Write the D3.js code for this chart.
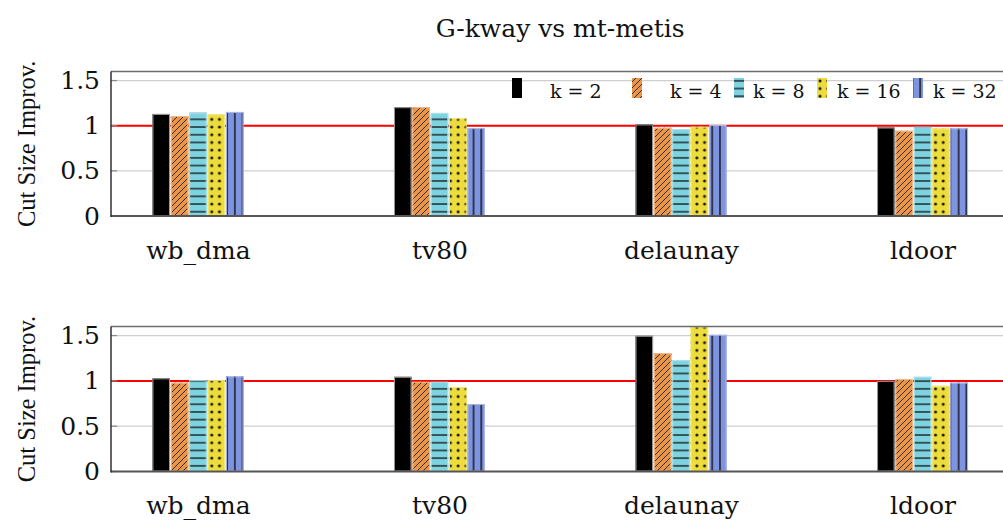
<!DOCTYPE html>
<html>
<head>
<meta charset="utf-8">
<script src="https://cdn.jsdelivr.net/npm/d3@7"></script>
<style>
  body { margin: 0; background: #fff; }
  svg { display: block; }
</style>
</head>
<body>
<svg id="chart" width="1003" height="521"></svg>
<script>
// ---- data ----
const categories = ["wb_dma", "tv80", "delaunay", "ldoor"];
const seriesNames = ["k = 2", "k = 4", "k = 8", "k = 16", "k = 32"];
const yTickValues = [0, 0.5, 1, 1.5];
const yTickLabels = ["0", "0.5", "1", "1.5"];
const chartTitle = "G-kway vs mt-metis";
const yAxisTitle = "Cut Size Improv.";

// upper panel: improvement per k, one value per graph
const upperK2  = [1.13, 1.205, 1.014, 0.98];
const upperK4  = [1.107, 1.205, 0.977, 0.944];
const upperK8  = [1.144, 1.141, 0.962, 0.988];
const upperK16 = [1.126, 1.082, 0.988, 0.97];
const upperK32 = [1.152, 0.973, 1.007, 0.97];

// lower panel
const lowerK2  = [1.028, 1.045, 1.497, 1.0];
const lowerK4  = [0.98, 0.99, 1.307, 1.02];
const lowerK8  = [1.007, 0.99, 1.229, 1.045];
const lowerK16 = [1.007, 0.93, 1.6, 0.946];
const lowerK32 = [1.05, 0.744, 1.508, 0.98];

const referenceLevel = 1;

// ---- styling ----
const FONT = "'DejaVu Serif', 'Liberation Serif', serif";
const TITLE_FONT = "'Liberation Serif', 'DejaVu Serif', serif";
const seriesColors = ["#000000", "#EB9548", "#7ED3E0", "#EDDC3C", "#7F94E0"];
const seriesPatterns = [null, "patDiag", "patHoriz", "patDots", "patVert"];

const svg = d3.select("#chart");
const defs = svg.append("defs");

// hatch patterns tiled across the page
const period = 7.7;
const diag = 6;
const pDiag = defs.append("pattern").attr("id", "patDiag")
  .attr("patternUnits", "userSpaceOnUse").attr("width", diag).attr("height", diag);
pDiag.append("path")
  .attr("d", `M-1,${diag + 1} L${diag + 1},-1 M-1,1 L1,-1 M${diag - 1},${diag + 1} L${diag + 1},${diag - 1}`)
  .attr("stroke", "#222").attr("stroke-width", 0.9);

const pHoriz = defs.append("pattern").attr("id", "patHoriz")
  .attr("patternUnits", "userSpaceOnUse").attr("width", 20).attr("height", period);
pHoriz.append("line").attr("x1", 0).attr("x2", 20).attr("y1", period / 2).attr("y2", period / 2)
  .attr("stroke", "#111").attr("stroke-width", 1.3);

const pDots = defs.append("pattern").attr("id", "patDots")
  .attr("patternUnits", "userSpaceOnUse").attr("width", period).attr("height", period);
pDots.append("circle").attr("cx", period / 2).attr("cy", period / 2).attr("r", 1.5).attr("fill", "#111");

const pVert = defs.append("pattern").attr("id", "patVert")
  .attr("patternUnits", "userSpaceOnUse").attr("width", period).attr("height", 20);
pVert.append("line").attr("y1", 0).attr("y2", 20).attr("x1", period / 2).attr("x2", period / 2)
  .attr("stroke", "#111").attr("stroke-width", 1.4);

// ---- layout ----
const xLeft = 111, xRight = 1009.5;
const panels = [
  { series: [upperK2, upperK4, upperK8, upperK16, upperK32], bottom: 216, top: 71.5 },
  { series: [lowerK2, lowerK4, lowerK8, lowerK16, lowerK32], bottom: 471.5, top: 326.5 }
];

const x0 = d3.scalePoint().domain(categories).range([xLeft, xRight]).padding(0.36);
const x1 = d3.scaleBand().domain(seriesNames).range([-45.5, 45.5]).paddingInner(0.045);

function lighter(c, t) { return d3.interpolateRgb(c, "#fff")(t); }

panels.forEach((panel, pi) => {
  const y = d3.scaleLinear().domain([0, 1.6]).range([panel.bottom, panel.top]);
  const g = svg.append("g");
  const clipId = "clip" + pi;
  defs.append("clipPath").attr("id", clipId).append("rect")
    .attr("x", xLeft).attr("y", panel.top).attr("width", xRight - xLeft).attr("height", panel.bottom - panel.top);

  // grid
  g.selectAll(".grid").data(yTickValues.filter(v => v > 0)).join("line")
    .attr("x1", xLeft).attr("x2", xRight)
    .attr("y1", d => y(d)).attr("y2", d => y(d))
    .attr("stroke", "#cfcfcf").attr("stroke-width", 1.2);

  // reference line at 1
  g.append("line")
    .attr("x1", xLeft).attr("x2", xRight)
    .attr("y1", y(referenceLevel)).attr("y2", y(referenceLevel))
    .attr("stroke", "#ff0000").attr("stroke-width", 2);

  // bars
  const rows = [];
  panel.series.forEach((vals, si) => {
    vals.forEach((v, ci) => rows.push({ cat: categories[ci], s: seriesNames[si], si, v }));
  });
  const bars = g.append("g").attr("clip-path", `url(#${clipId})`);
  const bx = d => x0(d.cat) + x1(d.s);
  const by = d => y(d.v);
  const bh = d => y(0) - y(d.v);
  bars.selectAll(".base").data(rows).join("rect")
    .attr("x", bx).attr("y", by).attr("width", x1.bandwidth()).attr("height", bh)
    .attr("fill", d => seriesColors[d.si]);
  bars.selectAll(".hatch").data(rows.filter(d => seriesPatterns[d.si])).join("rect")
    .attr("x", bx).attr("y", by).attr("width", x1.bandwidth()).attr("height", bh)
    .attr("fill", d => `url(#${seriesPatterns[d.si]})`);
  bars.selectAll(".edge").data(rows).join("rect")
    .attr("x", d => bx(d) + 0.5).attr("y", d => by(d) + 0.5)
    .attr("width", x1.bandwidth() - 1).attr("height", d => Math.max(0, bh(d) - 1))
    .attr("fill", "none")
    .attr("stroke", d => d.si === 0 ? "#9a9a9a" : lighter(seriesColors[d.si], 0.35))
    .attr("stroke-width", 1);

  // inner tick marks
  g.selectAll(".tk").data(yTickValues).join("line")
    .attr("x1", xLeft).attr("x2", xLeft + 6)
    .attr("y1", d => y(d)).attr("y2", d => y(d))
    .attr("stroke", "#888").attr("stroke-width", 1.2);
  g.selectAll(".tkr").data(yTickValues).join("line")
    .attr("x1", xRight - 6).attr("x2", xRight)
    .attr("y1", d => y(d)).attr("y2", d => y(d))
    .attr("stroke", "#888").attr("stroke-width", 1.2);

  // frame
  g.append("line").attr("x1", xLeft).attr("x2", xRight).attr("y1", panel.top).attr("y2", panel.top)
    .attr("stroke", "#6e6e6e").attr("stroke-width", 1.4);
  g.append("line").attr("x1", xRight).attr("x2", xRight).attr("y1", panel.top).attr("y2", panel.bottom)
    .attr("stroke", "#6e6e6e").attr("stroke-width", 1.4);
  g.append("line").attr("x1", xLeft).attr("x2", xRight).attr("y1", panel.bottom).attr("y2", panel.bottom)
    .attr("stroke", "#555").attr("stroke-width", 2);
  g.append("line").attr("x1", xLeft).attr("x2", xLeft).attr("y1", panel.top).attr("y2", panel.bottom + 1)
    .attr("stroke", "#222").attr("stroke-width", 1.4);

  // y axis labels
  const yAxis = d3.axisLeft(y).tickValues(yTickValues)
    .tickFormat((d, i) => yTickLabels[i]).tickSize(0).tickPadding(11);
  const ya = g.append("g").attr("transform", `translate(${xLeft},0)`).call(yAxis);
  ya.select(".domain").remove();
  ya.selectAll("text").attr("font-family", FONT).attr("font-size", 25).attr("fill", "#111");

  // x axis labels
  const xAxis = d3.axisBottom(x0).tickSize(0).tickPadding(25);
  const xa = g.append("g").attr("transform", `translate(0,${panel.bottom})`).call(xAxis);
  xa.select(".domain").remove();
  xa.selectAll("text").attr("font-family", FONT).attr("font-size", 25).attr("fill", "#111");

  // y title
  g.append("text")
    .attr("transform", `translate(35,${(panel.top + panel.bottom) / 2}) rotate(-90)`)
    .attr("text-anchor", "middle")
    .attr("font-family", TITLE_FONT).attr("font-size", 24.5).attr("fill", "#111")
    .text(yAxisTitle);

  // legend in the upper panel
  if (pi === 0) {
    const swatchX = [512, 632, 734, 817, 913];
    const labelX = [550, 670, 753, 837, 933];
    const lg = g.append("g");
    seriesNames.forEach((name, si) => {
      lg.append("rect").attr("x", swatchX[si]).attr("y", 78).attr("width", 10).attr("height", 20)
        .attr("fill", seriesColors[si]);
      if (seriesPatterns[si]) {
        lg.append("rect").attr("x", swatchX[si]).attr("y", 78).attr("width", 10).attr("height", 20)
          .attr("fill", `url(#${seriesPatterns[si]})`);
      }
      lg.append("text").attr("x", labelX[si]).attr("y", 98)
        .attr("font-family", FONT).attr("font-size", 19).attr("fill", "#111")
        .text(name);
    });
  }
});

// title
svg.append("text")
  .attr("x", (xLeft + xRight) / 2).attr("y", 37)
  .attr("text-anchor", "middle")
  .attr("font-family", FONT).attr("font-size", 25).attr("fill", "#111")
  .text(chartTitle);
</script>
</body>
</html>
